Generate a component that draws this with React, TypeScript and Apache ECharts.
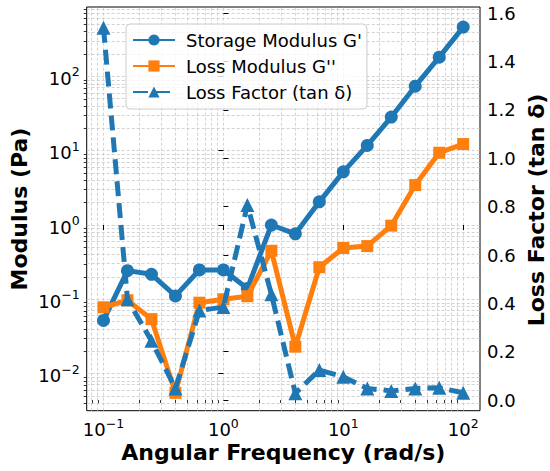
import React, { useEffect, useRef } from "react";
import * as echarts from "echarts";

// ---- data ----
const FREQ = [0.1, 0.1585, 0.2512, 0.3981, 0.631, 1.0, 1.585, 2.512, 3.981, 6.31, 10, 15.85, 25.12, 39.81, 63.1, 100];
const STORAGE_MODULUS = [0.052, 0.243, 0.217, 0.111, 0.248, 0.248, 0.14, 1.0, 0.76, 2.05, 5.2, 11.8, 28.4, 74, 182, 462];
const LOSS_MODULUS = [0.078, 0.097, 0.054, 0.0055, 0.09, 0.1, 0.11, 0.45, 0.023, 0.27, 0.49, 0.52, 0.98, 3.45, 9.4, 12.3];
const LOSS_FACTOR = [1.54, 0.417, 0.245, 0.048, 0.37, 0.385, 0.807, 0.438, 0.028, 0.124, 0.096, 0.048, 0.038, 0.048, 0.051, 0.03];

// tick labels (log10 exponents for log axes)
const X_DECADES = [-1, 0, 1, 2];
const Y_DECADES = [-2, -1, 0, 1, 2];
const TAN_TICKS = [0, 0.2, 0.4, 0.6, 0.8, 1.0, 1.2, 1.4, 1.6];

const SERIES_NAMES = ["Storage Modulus G'", "Loss Modulus G''", "Loss Factor (tan δ)"];

const X_MIN = -1.14;
const X_MAX = 2.14;
const Y_MIN = -2.5;
const Y_MAX = 2.935;
const T_MIN = -0.044;
const T_MAX = 1.626;

const FONT = "DejaVu Sans";
const BLUE = "#1f77b4";
const ORANGE = "#ff7f0e";

function minorLogs(lo: number, hi: number): number[] {
  const out: number[] = [];
  for (let n = Math.floor(lo); n <= Math.ceil(hi); n++) {
    for (let k = 2; k <= 9; k++) {
      const v = n + Math.log10(k);
      if (v > lo && v < hi) out.push(v);
    }
  }
  return out;
}
function majorLogs(lo: number, hi: number): number[] {
  const out: number[] = [];
  for (let n = Math.ceil(lo); n <= Math.floor(hi); n++) out.push(n);
  return out;
}

const supFormatter = (v: number) => {
  const e = Math.round(v);
  return `{b|10}{s|${e < 0 ? "\u2212" + -e : e}}`;
};
const supRich = {
  b: { fontSize: 18, fontFamily: FONT, color: "#000", lineHeight: 22, verticalAlign: "bottom" },
  s: { fontSize: 12.5, fontFamily: FONT, color: "#000", lineHeight: 12, verticalAlign: "top" },
};

function markerStyle(color: string) {
  return { color, borderColor: color, borderWidth: 0, opacity: 1 };
}

export default function App() {
  const ref = useRef<HTMLDivElement>(null);
  useEffect(() => {
    if (!ref.current) return;
    const chart = echarts.init(ref.current, undefined, { renderer: "svg" });
    const lx = FREQ.map((f) => Math.log10(f));

    const gridLines = [
      ...majorLogs(X_MIN, X_MAX).map((v) => ({ xAxis: v })),
      ...minorLogs(X_MIN, X_MAX).map((v) => ({ xAxis: v })),
      ...majorLogs(Y_MIN, Y_MAX).map((v) => ({ yAxis: v })),
      ...minorLogs(Y_MIN, Y_MAX).map((v) => ({ yAxis: v })),
    ];

    const option: any = {
      animation: false,
      backgroundColor: "#fff",
      grid: {
        left: 86.7,
        right: 70,
        top: 7,
        bottom: 60.3,
        show: true,
        borderColor: "#000",
        borderWidth: 1,
        backgroundColor: "transparent",
      },
      legend: {
        orient: "vertical",
        left: 126,
        top: 24,
        data: SERIES_NAMES,
        itemWidth: 42,
        itemHeight: 14,
        itemGap: 8,
        padding: [7, 5, 8, 6],
        backgroundColor: "rgba(255,255,255,0.8)",
        borderColor: "#cccccc",
        borderWidth: 1,
        borderRadius: 4,
        selectedMode: false,
        z: 10,
        textStyle: { fontSize: 18, fontFamily: FONT, color: "#000", padding: [0, 0, 0, 6], lineHeight: 18 },
      },
      xAxis: [
        {
          type: "value",
          min: X_MIN,
          max: X_MAX,
          position: "bottom",
          axisLine: { show: false },
          splitLine: { show: false },
          axisTick: { show: true, customValues: X_DECADES, length: 5, lineStyle: { color: "#000", width: 1 } },
          axisLabel: { customValues: X_DECADES, formatter: supFormatter, margin: 6, rich: supRich },
        },
        {
          type: "value",
          min: X_MIN,
          max: X_MAX,
          position: "bottom",
          axisLine: { show: false },
          splitLine: { show: false },
          axisTick: { show: true, customValues: minorLogs(X_MIN, X_MAX), length: 3, lineStyle: { color: "#000", width: 0.8 } },
          axisLabel: { show: false },
        },
      ],
      yAxis: [
        {
          type: "value",
          min: Y_MIN,
          max: Y_MAX,
          position: "left",
          axisLine: { show: false },
          splitLine: { show: false },
          axisTick: { show: true, customValues: Y_DECADES, length: 5, lineStyle: { color: "#000", width: 1 } },
          axisLabel: { customValues: Y_DECADES, formatter: supFormatter, margin: 7, rich: supRich },
        },
        {
          type: "value",
          min: T_MIN,
          max: T_MAX,
          position: "right",
          axisLine: { show: false },
          splitLine: { show: false },
          axisTick: { show: true, customValues: TAN_TICKS, length: 5, lineStyle: { color: "#000", width: 1 } },
          axisLabel: {
            customValues: TAN_TICKS,
            formatter: (v: number) => v.toFixed(1),
            margin: 7,
            fontSize: 18,
            fontFamily: FONT,
            color: "#000",
          },
        },
        {
          type: "value",
          min: Y_MIN,
          max: Y_MAX,
          position: "left",
          axisLine: { show: false },
          splitLine: { show: false },
          axisTick: { show: true, customValues: minorLogs(Y_MIN, Y_MAX), length: 3, lineStyle: { color: "#000", width: 0.8 } },
          axisLabel: { show: false },
        },
      ],
      series: [
        {
          name: "gridlines",
          type: "line",
          data: [],
          xAxisIndex: 0,
          yAxisIndex: 0,
          silent: true,
          z: 0,
          markLine: {
            z: 0,
            silent: true,
            symbol: ["none", "none"],
            label: { show: false },
            emphasis: { disabled: true },
            lineStyle: { color: "#c8c8c8", type: [3, 2], width: 0.8 },
            data: gridLines,
          },
        },
        {
          name: SERIES_NAMES[0],
          type: "line",
          xAxisIndex: 0,
          yAxisIndex: 0,
          data: lx.map((x, i) => [x, Math.log10(STORAGE_MODULUS[i])]),
          symbol: "circle",
          symbolSize: 13,
          showAllSymbol: true,
          lineStyle: { color: BLUE, width: 5 },
          itemStyle: markerStyle(BLUE),
          emphasis: { disabled: true },
          z: 2,
        },
        {
          name: SERIES_NAMES[1],
          type: "line",
          xAxisIndex: 0,
          yAxisIndex: 0,
          data: lx.map((x, i) => [x, Math.log10(LOSS_MODULUS[i])]),
          symbol: "rect",
          symbolSize: 12,
          showAllSymbol: true,
          lineStyle: { color: ORANGE, width: 5 },
          itemStyle: markerStyle(ORANGE),
          emphasis: { disabled: true },
          z: 3,
        },
        {
          name: SERIES_NAMES[2],
          type: "line",
          xAxisIndex: 0,
          yAxisIndex: 1,
          data: lx.map((x, i) => [x, LOSS_FACTOR[i]]),
          symbol: "triangle",
          symbolSize: 14,
          showAllSymbol: true,
          lineStyle: { color: BLUE, width: 5, type: [15, 7] },
          itemStyle: markerStyle(BLUE),
          emphasis: { disabled: true },
          z: 4,
        },
      ],
      graphic: [
        {
          type: "text",
          x: 283.3,
          y: 452,
          style: {
            text: "Angular Frequency (rad/s)",
            fontSize: 22,
            fontWeight: "bold",
            fontFamily: FONT,
            fill: "#000",
            align: "center",
            verticalAlign: "middle",
          },
        },
        {
          type: "text",
          x: 19,
          y: 209,
          rotation: Math.PI / 2,
          style: {
            text: "Modulus (Pa)",
            fontSize: 22,
            fontWeight: "bold",
            fontFamily: FONT,
            fill: "#000",
            align: "center",
            verticalAlign: "middle",
          },
        },
        {
          type: "text",
          x: 536,
          y: 210,
          rotation: Math.PI / 2,
          style: {
            text: "Loss Factor (tan δ)",
            fontSize: 22,
            fontWeight: "bold",
            fontFamily: FONT,
            fill: "#000",
            align: "center",
            verticalAlign: "middle",
          },
        },
      ],
    };
    chart.setOption(option);
    return () => chart.dispose();
  }, []);
  return (
    <div
      ref={ref}
      style={{ position: "absolute", left: 0, top: 0, width: 550, height: 471, background: "#fff" }}
    />
  );
}
